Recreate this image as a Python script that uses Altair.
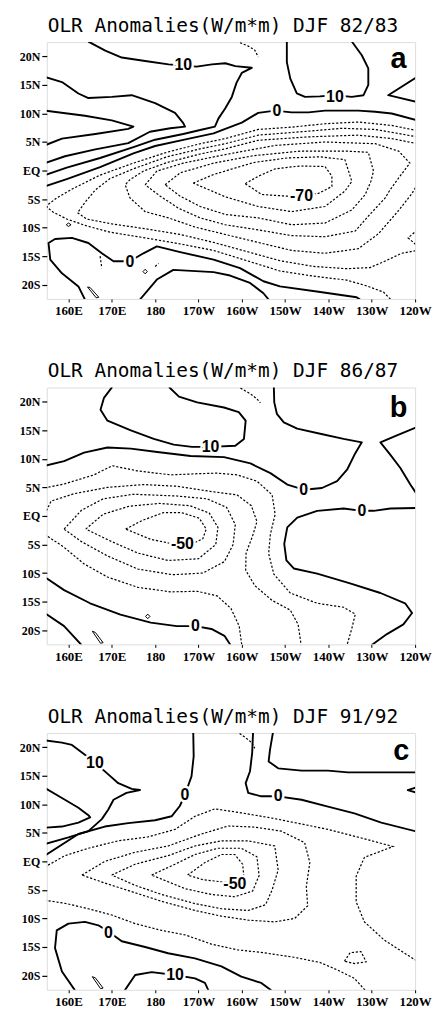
import altair as alt
import pandas as pd

# ---------------- panel a : DJF 82/83 ----------------
A_P30 = [(154.5,10.5),(163.8,9.6),(170,8.8),(175,7.7),(173.8,7.3),(166.2,6.4),(158.5,5.6),(154.5,4.4)]
A_P20 = [(154.5,16.4),(158.5,15.5),(162.3,13.5),(164.6,12.7),(170,12.9),(174.6,13.2),(180,11.8),(184.6,10.1),
         (186.5,8.3),(186.9,7.7),(183.5,7.4),(178.8,6.8),(173.8,4.8),(166.2,3.7),(159.2,2.5),(154.5,1.3)]
A_P10_NW = [(164.6,22.6),(168.5,21),(172.3,19.8),(177.7,19.2),(183.1,18.6),(189.6,18.2),(193.1,18.6),(196.2,18.8),
            (198.5,18.3),(202.3,18),(200,17.1),(198.8,15.4),(197.7,12.9),(196.2,10.9),(194.6,9.1),(193.8,7.7),
            (190.4,7.1),(186.5,6.4),(180,5.4),(175,4.1),(167.3,2.2),(159.6,0.5),(154.5,-0.8)]
A_Z_N = [(240.5,8.8),(234.6,10),(230.8,10.3),(226.9,10.5),(223.1,10.5),(219.2,10.5),(215.4,10.2),(211.5,10.2),
         (207.7,10.5),(203.8,10.1),(200,8.4),(196.2,7.3),(193.5,6.5),(187.3,5.5),(180,4.3),(175,3),(167.3,0.6),
         (159.6,-1.5),(154.5,-2.8)]
A_P10_NE = [(210.4,22.6),(210.4,19),(211.2,16.1),(212.7,13.5),(214.6,12.9),(218,13),(221.5,13.2),(225.4,12.9),
            (228.1,13.2),(229.2,15),(229.2,17.9),(227.7,20.2),(225.4,22.6)]
A_P10_E = [(240.5,16.4),(233.8,13.2),(240.5,12)]
A_DOT_N = [(199.6,22.4),(201.5,21.8),(203,21.1),(203.8,19.9)]
A_M10 = [(240.5,7),(234.6,7.9),(226.9,8.5),(219.2,8.2),(211.5,7.6),(203.8,7.2),(196.2,5.6),(190.4,4.7),(182.7,3.2),
         (175,1.3),(167.3,-0.8),(161.2,-3.1),(157.3,-4.8),(155.4,-5.9),(155,-6.4),(156.5,-7.3),(159.6,-8.5),
         (164.2,-9.7),(169.6,-10.8),(177.7,-11.8),(185.4,-12.8),(193.5,-14),(201.2,-15.8),(208.8,-17.6),
         (216.5,-18.5),(224.2,-19.2),(228.8,-20.2),(232.7,-21.3),(234.4,-22.6)]
A_M20 = [(240.5,5.9),(230.8,7.2),(223.1,7.4),(215.4,6.9),(203.8,6.2),(196.2,4.7),(190.4,3.8),(182.7,2.4),(175,0.3),
         (169.6,-1.4),(166.2,-3.4),(163.8,-5.6),(162.1,-7.4),(164.2,-8.5),(169.6,-9.3),(177.7,-10.2),(185.8,-11.2),
         (193.5,-12.6),(201.2,-14.2),(208.8,-15.8),(216.5,-16.8),(224.2,-17.2),(229.6,-17),(232.7,-16),
         (236.9,-14.5),(240.5,-14)]
A_NOTCH = [(240.5,-10.4),(238.4,-11.8),(240.5,-13.2)]
A_M30 = [(240.5,4.7),(234.6,5.6),(226.9,6.2),(215.4,5.9),(203.8,5.3),(196.2,3.8),(190.4,2.9),(182.7,1.4),(177.3,-0.1),
         (174.2,-1.6),(173.1,-2.5),(174.2,-4.8),(177.7,-7.2),(183.1,-8.3),(189.2,-9.9),(196.2,-11.2),(203.8,-12.6),
         (211.5,-14),(219.2,-14.5),(226.9,-13.7),(231.5,-11.1),(236.2,-7),(239.2,-4.1),(240.5,-2.5)]
A_M40 = [(177.7,-2.5),(180.4,-0.1),(186.5,1.3),(196.2,2.8),(207.7,4.4),(219.2,5),(230.8,4.7),(236.2,3.4),(238.8,1.3),
         (236.5,-1),(234.2,-3.4),(233.1,-4.8),(229.2,-8),(226.2,-10.6),(219.2,-11.6),(211.5,-11.4),(203.8,-10.4),
         (196.2,-9.5),(190.4,-8.3),(185.4,-6.6),(181.2,-4.5),(177.7,-2.5)]
A_M50 = [(182.3,-2.5),(185.8,-0.4),(193.5,1.3),(202.7,2.6),(213.5,3.4),(224.2,3.4),(229.2,3.2),(230.4,-0.1),
         (229.8,-1.9),(228.5,-4.2),(225.4,-6.9),(219.2,-9.2),(211.5,-9.5),(203.8,-8.3),(196.2,-7.7),(190.4,-6.3),
         (185.8,-4.5),(182.3,-2.5)]
A_M60 = [(188.8,-2.2),(193.5,-0.7),(202.7,1.4),(210.4,2.2),(218.1,2.4),(223.8,1.9),(225.4,-1.9),(223.8,-3.6),
         (219.2,-6.3),(211.5,-7.2),(203.8,-6.3),(196.2,-4.6),(188.8,-2.2)]
A_M70 = [(200.8,-2.3),(203.8,-1),(207.7,0.3),(213.5,0.8),(219.2,0.7),(220.8,-1),(220.8,-2.8),(217.7,-4),(213.8,-4.4),
         (210.8,-4.5),(204.6,-4.2),(200.8,-2.3)]
A_Z_S = [(163.8,-22.6),(162.3,-20.3),(158.5,-18),(155.8,-15.6),(155.4,-12.7),(156.9,-12),(160.8,-11.8),(164.6,-12.7),
         (167.7,-14.5),(170.4,-15.9),(174.2,-15.9),(177.3,-14.5),(180.4,-13.3),(185.8,-14.3),(193.5,-15.6),
         (199.6,-17.1),(205,-19.4),(208.8,-20.3),(217.3,-21.2),(226.5,-22.2),(227.3,-22.6)]
A_P10_S = [(176.5,-22.6),(180.4,-19.1),(184.2,-17.4),(193.5,-17.8),(197.3,-18.4),(201.9,-19.7),(205,-21.5),(206.2,-22.6)]
A_SMALL1 = [(177.2,-17.7),(177.7,-17.3),(178.2,-17.7),(177.7,-18.1),(177.2,-17.7)]
A_SMALL2 = [(159.5,-9.5),(160,-9.2),(160.6,-9.5),(160,-9.8),(159.5,-9.5)]
A_SMALL3 = [(164.4,-20.4),(165,-20.5),(167,-22.2),(166.4,-22.3),(164.4,-20.4)]
A_DASH1 = [(180,-16.8),(180.8,-16.3)]
A_DASH2 = [(167.3,-15),(167.7,-17.1)]

A_LABELS = [("10", 186.5, 18.4), ("10", 221.5, 12.9), ("0", 208.1, 10.5), ("-70", 213.8, -4.4), ("0", 174.2, -16.0)]

# ---------------- panel b : DJF 86/87 ----------------
B_P10_N = [(170.1,22.6),(168.2,20.7),(167.4,18.6),(169,16.7),(174.4,15),(179.7,13.5),(184.3,12.5),(188.5,12.1),
           (192.8,12.1),(198.5,12.3),(200.5,13.5),(200.9,16.7),(199.3,18.2),(195.9,19),(189.7,19.9),(185.5,20.9),(183.2,22.6)]
B_DOT_N = [(199.7,22.4),(202,21.4),(203.5,20.5),(204.3,19.8)]
B_Z_N = [(154.5,8.8),(159,9.6),(163.6,11.1),(169,12),(174.4,11.8),(180.5,11.2),(188.2,10.5),(195.9,10.3),(202,9.2),
         (206.6,7.5),(210.5,5.5),(214.3,4.6),(218.5,4.9),(222,6.1),(224.3,8.1),(226.2,11),(227.7,12.9),(223.5,13.5),
         (218.1,14.4),(212.8,15.3),(209.7,16.4),(208.1,17.9),(207.5,19.9),(207.4,22.6)]
B_Z_NE = [(240.5,15.6),(235.8,14.1),(232,12.9),(234.3,10.7),(236.6,8.4),(238.9,5.5),(240.5,3.7)]
B_Z_E = [(240.5,1.4),(234.3,1.3),(230.4,0.9),(227.7,0.9),(223.5,1.3),(217.4,0.9),(212.8,-0.3),(210.5,-2),(209.8,-4.9),
         (210.3,-7.8),(212,-9.2),(217.4,-10.1),(225,-11.8),(232,-13.5),(237.7,-15.3),(239.3,-17),(237.3,-19),
         (233.5,-20.7),(230,-22.6)]
B_M10 = [(154.5,4.9),(159,5.6),(165.9,7.2),(170.1,8.8),(175.9,7.9),(183.6,7.2),(189.7,7.4),(194.3,7.5),(198.9,7.2),
         (203.5,6.1),(207,3.7),(207.7,0.3),(206.6,-3.2),(206.2,-6.6),(207.4,-10.2),(211.2,-13.5),(217.4,-15.3),
         (223.5,-16),(226.2,-17.2),(225.4,-19.7),(224.3,-22.6)]
B_M20 = [(154.5,0.3),(156,2.6),(161.3,3.9),(169,5),(177.4,5.5),(185.1,5.2),(192.8,4.3),(198.9,3.7),(202.2,1.8),
         (203.5,-1),(202.5,-3.5),(201,-6.5),(200.9,-9.5),(203,-12.2),(207,-14.8),(211.2,-16.5),(213,-19),(213.7,-22.6)]
B_M10_S = [(154.5,-3.2),(159,-5.5),(163.6,-8.4),(169,-10.7),(176,-12.5),(183.6,-13.3),(189.7,-13.2),(194.3,-14),
           (197.5,-16.2),(199.4,-19.3),(200,-22.6)]
B_M30 = [(159,-2.3),(163,1),(168,3),(175,3.8),(185,3.5),(192,3),(196.5,1.5),(198.5,-1.5),(198,-5),(196,-8),(191,-10),
         (184,-10.3),(176,-9.3),(169,-7),(163,-4.5),(159,-2.3)]
B_M40 = [(164,-2.3),(168,0.3),(174,1.7),(181,2.2),(188,1.8),(192.5,0.5),(194.5,-2),(194,-5),(190,-7.5),(183,-7.8),
         (176,-6.5),(170,-4.5),(164,-2.3)]
B_M50 = [(173.2,-2.3),(177,-0.8),(182,0.6),(186,0.6),(190.2,-0.4),(191.8,-2.3),(191,-4),(188.5,-4.9),(186.3,-4.9),
         (183.5,-4.8),(179,-4.1),(173.2,-2.3)]
B_Z_S = [(154.5,-10.7),(159,-13),(165,-15.3),(172,-17.3),(179,-18.7),(185,-19.3),(189.3,-19.3),(193,-19.8),(196,-21),(197.4,-22.6)]
B_P10_S = [(154.5,-17),(159,-19.3),(163,-22.6)]
B_SMALL1 = [(165.5,-20.2),(166.2,-20.4),(168,-22.2),(167.4,-22.3),(165.5,-20.2)]
B_SMALL2 = [(177.8,-17.6),(178.3,-17.2),(178.8,-17.6),(178.3,-18),(177.8,-17.6)]

B_LABELS = [("10", 192.8, 12.1), ("0", 214.3, 4.5), ("0", 227.7, 0.8), ("-50", 186.3, -5.0), ("0", 189.3, -19.3)]

# ---------------- panel c : DJF 91/92 ----------------
C_P10_NW = [(154.5,21.2),(158.5,20.8),(160.8,20.4),(163.8,18.7),(166.1,17.3),(168.8,15.5),(171.5,13.7),(174.6,12.7),
            (176.5,12.5),(173.4,12),(170.4,10.8),(169.2,9.1),(167.7,7.4),(164.6,5.3),(160,4.2),(154.5,3)]
C_P20 = [(154.5,12.9),(158.5,11.1),(162.3,9.4),(164.6,8.1),(165,7.7),(162.3,6.8),(158.5,6.1),(154.5,5.9)]
C_Z_N = [(188.8,22.6),(188.9,18.4),(188.4,14.9),(187.3,12.6),(186.9,11.7),(185.7,9.7),(183.8,7.9),(180,7.2),
         (173.8,6.7),(168.4,6.1),(162.3,4.8),(154.5,1)]
C_Z_NC = [(202.6,22.6),(202.4,19),(201.9,15.8),(200.9,13.7),(201.5,12),(204.5,11.4),(208.4,11.4),(213.8,10.8),
          (219.9,9.6),(226,8.4),(232.2,6.8),(240.5,5.2)]
C_P10_NE = [(207.2,22.6),(206.5,19.5),(206.2,17.5),(208.4,16.3),(213.8,15.9),(219.9,15.9),(224.5,15.6),(240.5,15.6)]
C_NOTCH = [(240.5,13),(238.3,12.5),(240.5,12)]
C_DOT_N = [(199.5,22.4),(201,21.6),(202.3,20.8),(203,19.8)]
C_M10 = [(154.5,-1),(159.2,1),(164.6,2.3),(171.5,3.6),(178.4,4.3),(184.6,5.6),(189.2,7.9),(193.8,9.2),(199.9,8.5),
         (206.1,7.7),(212.2,6.8),(219.9,5.6),(227.6,4.1),(234.9,2.6),(228.3,0.7),(226.4,-2.6),(226.4,-7.1),
         (228.3,-10.6),(232.9,-13.8),(237.6,-16.1),(240.5,-17.5)]
C_M10_S = [(154.5,-6.8),(159.6,-7.4),(164.6,-8.3),(170,-9.4),(175.4,-10.9),(181.5,-12.1),(187,-12.9),(193,-14.5),
           (199,-15.5),(205,-16),(212,-16.8),(218,-17.7),(222,-19),(226,-20.5),(228.5,-22.6)]
C_M20 = [(163.1,-2.4),(168.4,0),(175.4,1.6),(183,2.7),(190.7,4.8),(196.9,6.2),(203,6),(209.1,5.3),(214.5,3.3),
         (215.7,-0.2),(214.9,-4.4),(215.2,-7.8),(212.2,-10),(207.6,-10.6),(201.5,-10.3),(195.3,-9.6),(189.2,-8.6),
         (181.5,-7),(175.4,-5.5),(168.4,-3.8),(163.1,-2.4)]
C_M30 = [(170,-2.4),(175.4,-0.5),(183,1),(189.2,2.7),(195.3,3.6),(201.5,3.6),(207.6,2.7),(208.4,-1.5),(207,-5),
         (205.5,-7.6),(201.5,-8.6),(195.3,-8.3),(189.2,-7.4),(181.5,-5.8),(175.4,-4.2),(170,-2.4)]
C_M40 = [(179.2,-2.4),(184.6,-0.5),(189.2,1.2),(194.5,2.3),(199.9,2.3),(203.5,0.8),(204,-2.5),(202.5,-5.2),
         (198.4,-6.2),(193,-5.8),(187,-4.8),(179.2,-2.4)]
C_M50 = [(187.5,-2.4),(191.5,-0.2),(195.3,1.2),(198.4,1.2),(200.2,-0.5),(200.5,-2.8),(199.5,-3.9),(198.4,-3.9),
         (195.5,-3.6),(191,-3.2),(187.5,-2.4)]
C_LOOP_SE = [(223.7,-17.5),(225,-16),(227.5,-15.8),(228.7,-17.6),(226,-17.9),(223.7,-17.5)]
C_Z_S = [(161.5,-22.6),(158.5,-19.3),(156.9,-15.2),(157.3,-12.1),(160,-10.9),(163.8,-10.6),(166.9,-11.2),(169.2,-12.3),
         (172.3,-14),(177.7,-15),(183,-16.1),(189.2,-17),(195.3,-18.4),(199.9,-20.2),(204.5,-21.3),(206.8,-22.6)]
C_P10_S = [(173,-22.6),(175.4,-19.9),(179.2,-19.4),(184.6,-19.9),(189.2,-20.5),(191.5,-21.3),(192.3,-22.6)]
C_SMALL1 = [(165.5,-20.2),(166.2,-20.4),(168,-22.2),(167.4,-22.3),(165.5,-20.2)]

C_LABELS = [("10", 166.1, 17.3), ("0", 186.9, 11.6), ("0", 208.4, 11.4), ("-50", 198.4, -3.9),
            ("0", 169.2, -12.5), ("10", 184.6, -19.9)]

TITLES = ["OLR Anomalies(W/m*m) DJF 82/83", "OLR Anomalies(W/m*m) DJF 86/87", "OLR Anomalies(W/m*m) DJF 91/92"]
LETTERS = [("a", 236.2, 18.0), ("b", 236.2, 17.3), ("c", 236.8, 17.8)]
LON_TICKS = [160, 170, 180, 190, 200, 210, 220, 230, 240]
LAT_TICKS = [-20, -15, -10, -5, 0, 5, 10, 15, 20]

PANEL_LINES = [
    [(A_P30, "solid"), (A_P20, "solid"), (A_P10_NW, "solid"), (A_Z_N, "solid"), (A_P10_NE, "solid"),
     (A_P10_E, "solid"), (A_DOT_N, "dash"), (A_M10, "dash"), (A_M20, "dash"), (A_NOTCH, "dash"),
     (A_M30, "dash"), (A_M40, "dash"), (A_M50, "dash"), (A_M60, "dash"), (A_M70, "dash"),
     (A_Z_S, "solid"), (A_P10_S, "solid"), (A_SMALL1, "thin"), (A_SMALL2, "thin"), (A_SMALL3, "thin"),
     (A_DASH1, "dash"), (A_DASH2, "dash")],
    [(B_P10_N, "solid"), (B_DOT_N, "dash"), (B_Z_N, "solid"), (B_Z_NE, "solid"), (B_Z_E, "solid"),
     (B_M10, "dash"), (B_M20, "dash"), (B_M10_S, "dash"), (B_M30, "dash"), (B_M40, "dash"), (B_M50, "dash"),
     (B_Z_S, "solid"), (B_P10_S, "solid"), (B_SMALL1, "thin"), (B_SMALL2, "thin")],
    [(C_P10_NW, "solid"), (C_P20, "solid"), (C_Z_N, "solid"), (C_Z_NC, "solid"), (C_P10_NE, "solid"),
     (C_NOTCH, "solid"), (C_DOT_N, "dash"), (C_M10, "dash"), (C_M10_S, "dash"), (C_M20, "dash"),
     (C_M30, "dash"), (C_M40, "dash"), (C_M50, "dash"), (C_LOOP_SE, "dash"), (C_Z_S, "solid"),
     (C_P10_S, "solid"), (C_SMALL1, "thin")],
]
PANEL_LABELS = [A_LABELS, B_LABELS, C_LABELS]

LON_EXPR = "datum.value < 180 ? datum.value + 'E' : (datum.value == 180 ? '180' : (360 - datum.value) + 'W')"
LAT_EXPR = "datum.value > 0 ? datum.value + 'N' : (datum.value == 0 ? 'EQ' : (-datum.value) + 'S')"

x_enc = alt.X("lon:Q", scale=alt.Scale(domain=[155, 240], nice=False, zero=False),
              axis=alt.Axis(values=LON_TICKS, labelExpr=LON_EXPR, title=None, grid=False, domain=False,
                            tickSize=3, tickColor="black", labelFont="Liberation Sans Narrow",
                            labelFontWeight="bold", labelFontSize=13, labelColor="black", labelPadding=3,
                            labelFlush=False))
y_enc = alt.Y("lat:Q", scale=alt.Scale(domain=[-22.5, 22.5], nice=False, zero=False),
              axis=alt.Axis(values=LAT_TICKS, labelExpr=LAT_EXPR, title=None, grid=False, domain=False,
                            tickSize=5, tickWidth=1.2, tickColor="black", labelFont="Liberation Sans Narrow",
                            labelFontWeight="bold", labelFontSize=12, labelColor="black", labelPadding=2))


def panel(k):
    rows = []
    for cid, (pts, style) in enumerate(PANEL_LINES[k]):
        for i, (lo, la) in enumerate(pts):
            rows.append({"cid": cid, "i": i, "lon": lo, "lat": la, "style": style})
    df = pd.DataFrame(rows)
    lab = pd.DataFrame(PANEL_LABELS[k], columns=["text", "lon", "lat"])
    let = pd.DataFrame([LETTERS[k]], columns=["text", "lon", "lat"])

    base = alt.Chart(df).encode(x=x_enc, y=y_enc, detail="cid:N", order="i:Q")
    solid = base.transform_filter(alt.datum.style == "solid").mark_line(
        color="black", strokeWidth=1.9, clip=True, strokeJoin="round")
    thin = base.transform_filter(alt.datum.style == "thin").mark_line(
        color="black", strokeWidth=1.0, clip=True)
    dash = base.transform_filter(alt.datum.style == "dash").mark_line(
        color="black", strokeWidth=1.2, strokeDash=[2.2, 1.8], clip=True)
    halo = alt.Chart(lab).mark_text(font="Liberation Sans", fontSize=16, fontWeight="bold",
                                    color="white", stroke="white", strokeWidth=5).encode(
        x=x_enc, y=y_enc, text="text:N")
    txt = alt.Chart(lab).mark_text(font="Liberation Sans", fontSize=16, fontWeight="bold",
                                   color="black").encode(x=x_enc, y=y_enc, text="text:N")
    letter = alt.Chart(let).mark_text(font="Liberation Sans", fontSize=29, fontWeight="bold",
                                      color="black", baseline="alphabetic").encode(
        x=x_enc, y=y_enc, text="text:N")
    return alt.layer(solid, thin, dash, halo, txt, letter).properties(
        width=370, height=258,
        title=alt.TitleParams(TITLES[k], font="DejaVu Sans Mono", fontSize=19.5, fontWeight="normal",
                              color="black", anchor="middle", offset=6, dx=-8))


chart = alt.vconcat(panel(0), panel(1), panel(2), spacing=42).properties(
    padding={"left": 18, "top": 13, "right": 5, "bottom": 0}
).configure_view(stroke="black", strokeWidth=1.6).configure(background="white")

chart.save("out.html", embed_options={"renderer": "svg", "actions": False})
